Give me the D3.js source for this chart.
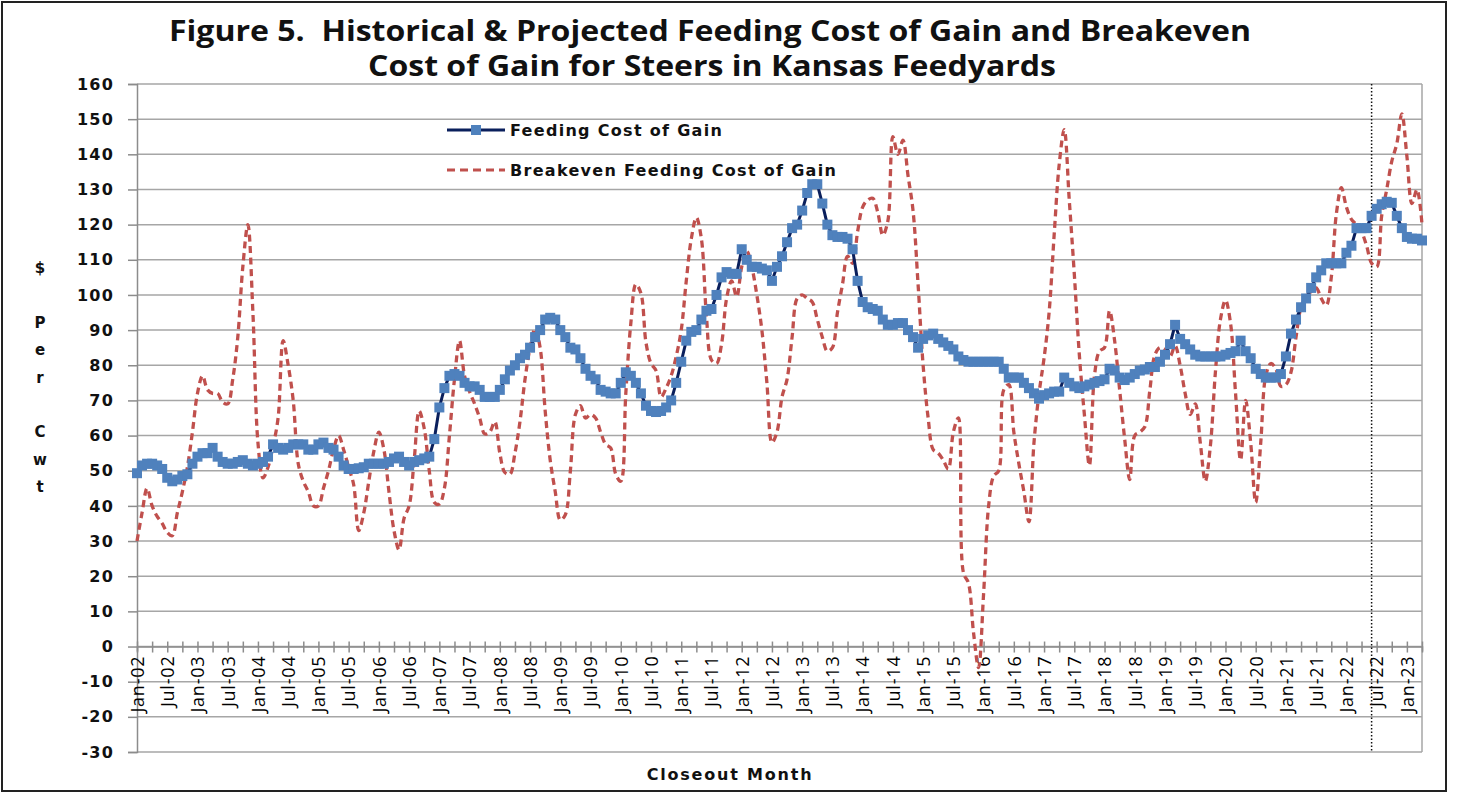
<!DOCTYPE html>
<html>
<head>
<meta charset="utf-8">
<script src="https://cdn.jsdelivr.net/npm/d3@7"></script>
<style>
  body { margin: 0; background: #fff; }
  svg { display: block; }
</style>
</head>
<body>
<svg id="chart" width="1460" height="796"></svg>
<script>
// Closeout months, Jan-02 .. Apr-23
const firstMonth = new Date(2002, 0, 1);
const endMonth = new Date(2023, 4, 1);

// Feeding cost of gain ($/cwt), one value per month
const costOfGain = [
  49.3, 51.5, 52, 52, 51.5, 50.5, 48, 47, 47.5, 48.5, 49, 52,
  54, 55, 55, 56.5, 54, 52.5, 52, 52, 52.5, 53, 52, 51.5,
  52, 52.5, 54, 57.5, 56.5, 56, 56.5, 57.5, 57.5, 57.5, 56, 56,
  57.5, 58, 56.5, 56, 54, 51.5, 50.5, 50.5, 50.7, 51, 52, 52,
  52, 52, 52.5, 53.5, 54, 52.5, 51.5, 52.5, 53, 53.5, 54, 59,
  68, 73.5, 77, 77.5, 77, 75, 74, 74, 73, 71, 71, 71,
  73, 76, 78.5, 80, 82, 83, 85, 88, 90, 93, 93.5, 93,
  90, 88, 85, 84.5, 82, 79, 77, 76, 73, 72.5, 72, 72,
  75, 78, 77, 75, 72, 68.5, 67, 66.7, 67, 68, 70, 75,
  81, 87, 89.5, 90, 93, 95.5, 96, 100, 105, 106.5, 106, 106,
  113, 110, 108, 108, 107.5, 107, 104, 108, 111, 115, 119, 120,
  124, 129, 131.5, 131.5, 126, 120, 117, 116.5, 116.5, 116, 113, 104,
  98, 96.5, 96, 95.5, 93, 91.5, 91.5, 92, 92, 90, 88, 85,
  87.5, 88.5, 89, 87.5, 86.5, 85.5, 84.5, 82.5, 81.5, 81, 81, 81,
  81, 81, 81, 81, 79, 76.5, 76.5, 76.5, 75, 73.5, 72, 70.5,
  71.5, 72, 72.5, 72.5, 76.5, 75, 74, 73.5, 74, 74.5, 75, 75.5,
  76, 79, 78.5, 76.5, 75.8, 76.5, 77.5, 78.5, 78.8, 79.5, 79.5, 81,
  83, 86, 91.5, 87.5, 86, 84.5, 83, 82.5, 82.5, 82.5, 82.5, 82.5,
  83, 83.5, 84, 87, 84, 82, 79, 77.5, 76.5, 76.5, 76.5, 77.5,
  82.5, 89, 93, 96.5, 99, 102, 105, 107, 109, 109, 109, 109,
  112, 114, 119, 119, 119, 122.5, 124.5, 125.8, 126.5, 126.2, 122.5, 119,
  116.5, 116, 116, 115.5
];

// Breakeven feeding cost of gain ($/cwt), one value per month
const breakeven = [
  30, 38, 45, 40, 37, 35, 32.5, 31.5, 38, 44, 51, 61,
  72, 77, 73, 72, 72, 69.5, 69, 76, 88, 108, 120, 95,
  58, 48, 51, 57, 65, 87, 80, 70, 52, 47, 44, 40,
  40, 45, 50, 56, 60, 56, 51, 46, 33, 38, 47, 55.5,
  61, 56, 44, 33, 27.5, 36.5, 40, 53, 67, 62, 50, 41,
  40.5, 45, 60, 76, 87, 77, 72.5, 69, 65, 60.5, 61, 64,
  55, 49.5, 49, 55, 64, 76, 85, 90.5, 85, 67, 53, 44,
  36, 37.5, 50, 66, 68.5, 65, 66, 65, 61, 57.5, 56.5, 49,
  47, 72, 92, 103, 100.5, 86.5, 80.5, 78.5, 71, 73.5, 77, 82.5,
  90, 104, 116, 122, 116, 94, 81.5, 80.5, 86, 99, 104, 99.5,
  108, 112.5, 108, 100, 90, 75, 58, 61, 71, 76, 88, 99,
  100, 99, 98, 93, 88, 84, 85, 95, 103, 111, 109, 118,
  125, 127, 127.5, 123.5, 117, 121, 145, 140, 144, 134, 124, 103,
  80, 65, 56, 55, 53, 50.5, 61, 65, 21, 18, 4, -6,
  15, 40, 48.5, 50, 73, 74.5, 61, 52, 44, 35.5, 58, 72,
  82, 95, 117, 137, 147, 127, 106, 83, 66, 51.5, 77, 84,
  85, 95.5, 87, 73, 59, 47.5, 60, 61, 62.5, 73, 83, 85,
  84.5, 82.5, 85.5, 80, 72, 66, 69, 58, 47, 57, 78, 93,
  98.5, 92, 72, 53, 70, 58, 41, 58, 77, 80.5, 79, 74,
  74.5, 78, 88, 96.5, 99.5, 101, 102, 99, 97, 105, 123, 130.5,
  125, 121.5, 120, 118, 114, 109, 108, 122.5, 130, 138, 143, 151.5,
  139.5, 126, 130, 120
];

const yTicks = d3.range(-30, 161, 10);
const projectionStart = "Jun-22";
const titleLines = [
  "Figure 5.  Historical & Projected Feeding Cost of Gain and Breakeven",
  "Cost of Gain for Steers in Kansas Feedyards"
];
const seriesNames = ["Feeding Cost of Gain", "Breakeven Feeding Cost of Gain"];
const yTitle = ["$", "P", "e", "r", "C", "w", "t"];

const fmt = d3.timeFormat("%b-%y");
const months = d3.timeMonth.range(firstMonth, endMonth).map(fmt);

const svg = d3.select("#chart");
const boldFont = "'DejaVu Sans', Verdana, sans-serif";
const narrowFont = "'Liberation Sans Narrow', 'Open Sans', sans-serif";

// frame
svg.append("rect")
  .attr("x", 2).attr("y", 2).attr("width", 1444).attr("height", 789)
  .attr("fill", "#fff").attr("stroke", "#222").attr("stroke-width", 2);

const x = d3.scalePoint().domain(months).range([137, 1422]);
const y = d3.scaleLinear().domain([-30, 160]).range([752, 84]);

// gridlines
svg.append("g")
  .selectAll("line")
  .data(yTicks)
  .join("line")
  .attr("x1", 137).attr("x2", 1422)
  .attr("y1", d => y(d)).attr("y2", d => y(d))
  .attr("stroke", "#a6a6a6").attr("stroke-width", 1.5);

// right border of plot
svg.append("line")
  .attr("x1", 1422).attr("x2", 1422).attr("y1", y(160)).attr("y2", y(-30))
  .attr("stroke", "#a6a6a6").attr("stroke-width", 1.5);

// y axis
const yAxis = svg.append("g")
  .attr("transform", "translate(137,0)")
  .call(d3.axisLeft(y).tickValues(yTicks).tickSize(9).tickPadding(14)
    .tickFormat(d => String(d)));
yAxis.select(".domain").attr("stroke", "#8c8c8c").attr("stroke-width", 1.5);
yAxis.selectAll(".tick line").attr("stroke", "#8c8c8c").attr("stroke-width", 1.5);
yAxis.selectAll("text")
  .attr("font-family", boldFont).attr("font-weight", "bold")
  .attr("font-size", 16).attr("letter-spacing", 1.2).attr("fill", "#111");

// category axis at zero
const xAxis = svg.append("g")
  .attr("transform", `translate(0,${y(0)})`)
  .call(d3.axisBottom(x)
    .tickValues(months.filter((d, i) => i % 3 === 0))
    .tickSize(5)
    .tickFormat((d) => (months.indexOf(d) % 6 === 0 ? d : "")));
xAxis.select(".domain").attr("stroke", "#8c8c8c").attr("stroke-width", 1.5);
xAxis.selectAll(".tick line").attr("y1", -5).attr("y2", 6)
  .attr("stroke", "#8c8c8c").attr("stroke-width", 1.5);
xAxis.selectAll("text")
  .attr("font-family", narrowFont).attr("font-size", 18).attr("fill", "#000")
  .attr("letter-spacing", 0.8)
  .attr("text-anchor", "end")
  .attr("transform", "rotate(-90)")
  .attr("x", -9).attr("y", 0).attr("dy", "0.35em");

// projection divider
svg.append("line")
  .attr("x1", x(projectionStart)).attr("x2", x(projectionStart))
  .attr("y1", y(160)).attr("y2", y(-30))
  .attr("stroke", "#111").attr("stroke-width", 1.5)
  .attr("stroke-dasharray", "1.5,2");

// breakeven series
const redLine = d3.line()
  .x((d, i) => x(months[i]))
  .y(d => y(d))
  .curve(d3.curveCatmullRom.alpha(0.5));

svg.append("path")
  .datum(breakeven)
  .attr("d", redLine)
  .attr("fill", "none")
  .attr("stroke", "#c0504d")
  .attr("stroke-width", 3.3)
  .attr("stroke-dasharray", "7,4.5");

// cost of gain series
const blueLine = d3.line()
  .x((d, i) => x(months[i]))
  .y(d => y(d));

svg.append("path")
  .datum(costOfGain)
  .attr("d", blueLine)
  .attr("fill", "none")
  .attr("stroke", "#0a1f5c")
  .attr("stroke-width", 3);

svg.append("g")
  .selectAll("rect")
  .data(costOfGain)
  .join("rect")
  .attr("x", (d, i) => x(months[i]) - 5)
  .attr("y", d => y(d) - 5)
  .attr("width", 10).attr("height", 10)
  .attr("fill", "#4f81bd");

// legend
const legend = svg.append("g").attr("transform", "translate(447,0)");
legend.append("line")
  .attr("x1", 0).attr("x2", 58).attr("y1", 130).attr("y2", 130)
  .attr("stroke", "#0a1f5c").attr("stroke-width", 3);
legend.append("rect")
  .attr("x", 24).attr("y", 125).attr("width", 10).attr("height", 10)
  .attr("fill", "#4f81bd");
legend.append("line")
  .attr("x1", 0).attr("x2", 58).attr("y1", 170).attr("y2", 170)
  .attr("stroke", "#c0504d").attr("stroke-width", 3)
  .attr("stroke-dasharray", "8,5");
legend.selectAll("text")
  .data(seriesNames)
  .join("text")
  .attr("x", 63)
  .attr("y", (d, i) => 130 + i * 40)
  .attr("dy", "0.35em")
  .attr("font-family", boldFont).attr("font-weight", "bold")
  .attr("font-size", 16).attr("letter-spacing", 1.3).attr("fill", "#111")
  .text(d => d);

// title
svg.append("g")
  .selectAll("text")
  .data(titleLines)
  .join("text")
  .attr("x", (d, i) => (i === 0 ? 710 : 712))
  .attr("y", (d, i) => 41 + i * 35)
  .attr("text-anchor", "middle")
  .attr("font-family", "'Open Sans', sans-serif")
  .attr("font-weight", "bold")
  .attr("font-size", 28)
  .attr("fill", "#111")
  .style("white-space", "pre")
  .attr("textLength", (d, i) => (i === 0 ? 1082 : 688))
  .attr("lengthAdjust", "spacingAndGlyphs")
  .text(d => d);

// y axis title, stacked letters
svg.append("g")
  .selectAll("text")
  .data(yTitle)
  .join("text")
  .attr("x", 40)
  .attr("y", (d, i) => [268, 323, 350, 378, 432, 460, 487][i])
  .attr("dy", "0.35em")
  .attr("text-anchor", "middle")
  .attr("font-family", boldFont).attr("font-weight", "bold")
  .attr("font-size", 15).attr("fill", "#111")
  .text(d => d);

// x axis title
svg.append("text")
  .attr("x", 730).attr("y", 780)
  .attr("text-anchor", "middle")
  .attr("font-family", boldFont).attr("font-weight", "bold")
  .attr("font-size", 16).attr("letter-spacing", 1.8).attr("fill", "#111")
  .text("Closeout Month");
</script>
</body>
</html>
